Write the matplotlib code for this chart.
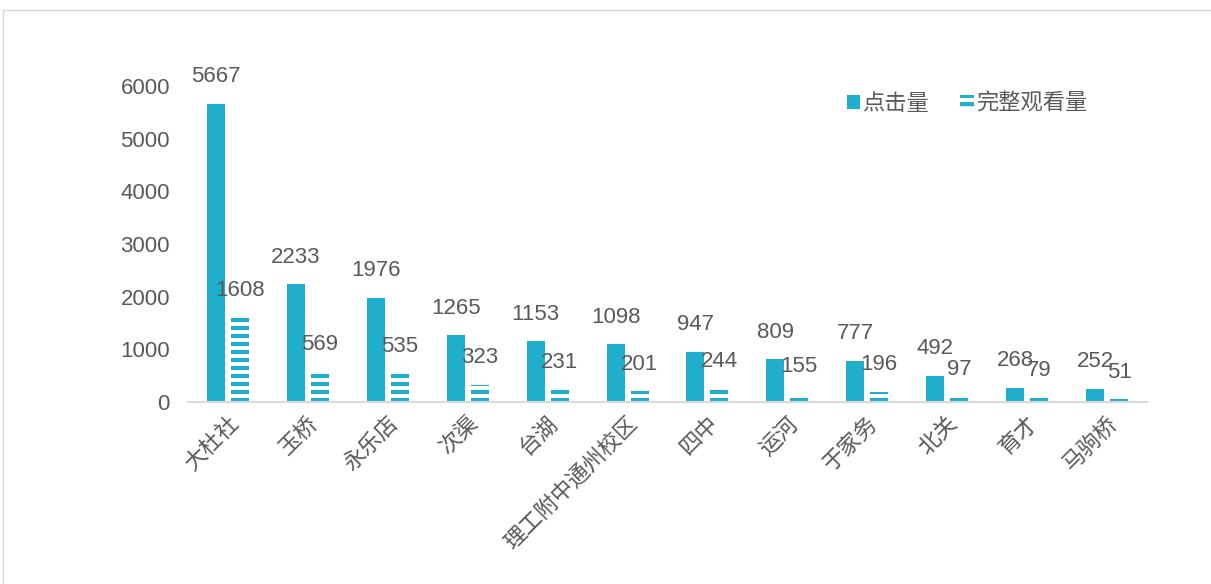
import matplotlib
matplotlib.use("Agg")
import matplotlib.pyplot as plt
import numpy as np
from matplotlib.patches import Patch
from matplotlib.lines import Line2D

plt.rcParams['font.family'] = ['Liberation Sans', 'Noto Sans CJK SC', 'DejaVu Sans']
plt.rcParams['hatch.linewidth'] = 3.0

categories = ['大杜社', '玉桥', '永乐店', '次渠', '台湖', '理工附中通州校区',
              '四中', '运河', '于家务', '北关', '育才', '马驹桥']
clicks = [5667, 2233, 1976, 1265, 1153, 1098, 947, 809, 777, 492, 268, 252]
full_views = [1608, 569, 535, 323, 231, 201, 244, 155, 196, 97, 79, 51]

BLUE = '#1FAECB'
TEXT = '#595959'
W, H = 1211, 584

fig = plt.figure(figsize=(W / 100, H / 100), dpi=100)
ax = fig.add_axes([188 / W, 1 - 402 / H, (1147 - 188) / W, (402 - 86) / H])
ax.set_xlim(-0.5, len(categories) - 0.5)
ax.set_ylim(0, 6000)

x = np.arange(len(categories))
bw = 0.225
ax.bar(x - 0.15, clicks, width=bw, color=BLUE, linewidth=0)

# striped bars: horizontal stripes stacked from the baseline
units_per_px = 6000 / (402 - 86)
period = 8 * units_per_px
stripe = 4 * units_per_px
sx, sb, sh = [], [], []
for i, v in enumerate(full_views):
    b = 0.0
    while b < v:
        sx.append(x[i] + 0.15)
        sb.append(b)
        sh.append(min(stripe, v - b))
        b += period
ax.bar(sx, sh, bottom=sb, width=bw, color=BLUE, linewidth=0)

for i in range(len(categories)):
    ax.annotate(str(clicks[i]), (x[i] - 0.15, clicks[i]), xytext=(0, 12),
                textcoords='offset points', ha='center', va='bottom',
                fontsize=16, color=TEXT)
    ax.annotate(str(full_views[i]), (x[i] + 0.15, full_views[i]), xytext=(0, 12),
                textcoords='offset points', ha='center', va='bottom',
                fontsize=16, color=TEXT)

ax.set_yticks(range(0, 6001, 1000))
ax.tick_params(axis='y', length=0, labelsize=16, labelcolor=TEXT, pad=13)
ax.set_xticks(x)
ax.set_xticklabels(categories, rotation=45, ha='right', va='top',
                   rotation_mode='anchor', fontsize=16, color=TEXT)
ax.tick_params(axis='x', length=0, pad=8)
for s in ['top', 'right', 'left']:
    ax.spines[s].set_visible(False)
ax.spines['bottom'].set_color('#D9D9D9')
ax.spines['bottom'].set_linewidth(1.5)

handles = [Patch(facecolor=BLUE, linewidth=0),
           Patch(facecolor='white', edgecolor=BLUE, hatch='--', linewidth=0)]
fig.legend(handles, ['点击量', '完整观看量'], ncol=2, frameon=False,
           loc='center left', bbox_to_anchor=(838 / W, 1 - 104 / H),
           fontsize=16, labelcolor=TEXT, handlelength=0.6, handleheight=0.6,
           handletextpad=0.1, columnspacing=1.4, borderaxespad=0)

# light frame around the chart area
fig.add_artist(Line2D([3 / W, 3 / W], [0, 1 - 10 / H], transform=fig.transFigure,
                      color='#D9D9D9', linewidth=1))
fig.add_artist(Line2D([3 / W, 1], [1 - 10 / H, 1 - 10 / H], transform=fig.transFigure,
                      color='#D9D9D9', linewidth=1))

fig.savefig('out.png', dpi=100)
